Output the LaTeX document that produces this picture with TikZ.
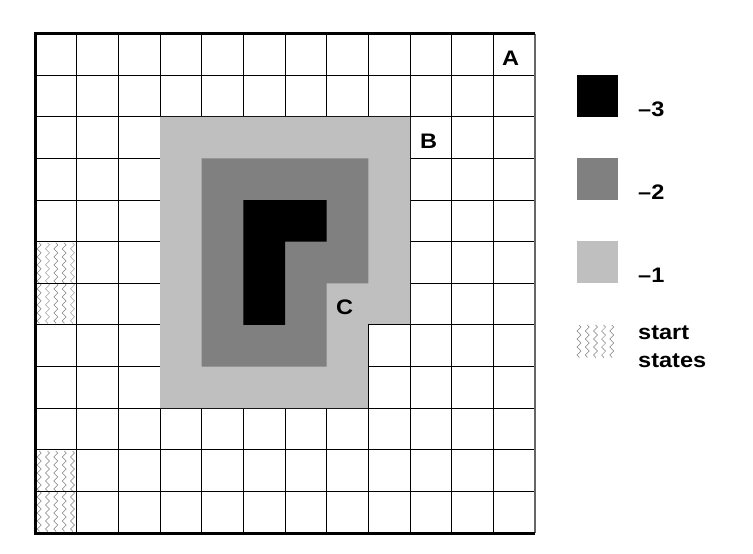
\documentclass[tikz,border=0pt]{standalone}
\usepackage{fontspec}
\setmainfont{Liberation Sans}
\usetikzlibrary{decorations.pathmorphing}
\newcommand{\wide}[1]{\scalebox{1.12}[1]{#1}}
\begin{document}
\begin{tikzpicture}[x=1pt,y=-1pt,
  lbl/.style={font=\fontsize{21}{24}\selectfont\bfseries, inner sep=0pt, anchor=base west},
  gridline/.style={line width=1pt, black},
  zz/.style={draw=black!50, line width=0.5pt, decorate,
     decoration={zigzag, segment length=8pt, amplitude=2pt}},
  lightc/.style={fill=black!25},
  darkc/.style={fill=black!50},
  blackc/.style={fill=black}]
\useasboundingbox (0,0) rectangle (753,554);
\begin{scope}[xshift=35pt, yshift=-33.5pt, x=41.667pt, y=-41.625pt]
  % start-state patterns
  \foreach \r in {5,10}{
    \foreach \k in {0,...,4}{
      \draw[zz] ({0.1+0.2*\k},\r+0.03) -- ({0.1+0.2*\k},\r+1.97);
    }
  }
  % grid
  \foreach \i in {1,...,11}{
    \draw[gridline] (\i,0) -- (\i,12);
    \draw[gridline] (0,\i) -- (12,\i);
  }
  % value regions
  \fill[lightc] (3,2) -- (9,2) -- (9,7) -- (8,7) -- (8,9) -- (3,9) -- cycle;
  \fill[darkc] (4,3) -- (8,3) -- (8,6) -- (7,6) -- (7,8) -- (4,8) -- cycle;
  \fill[blackc] (5,4) -- (7,4) -- (7,5) -- (6,5) -- (6,7) -- (5,7) -- cycle;
  \draw[gridline] (8,7) -- (9,7) (8,7) -- (8,9) (8,9) -- (9,9) (9,7) -- (9,9);
  % border
  \draw[line width=1.5pt, black!60] (12,0) -- (12,12);
  \draw[line width=3pt] (12,0) -- (0,0) -- (0,12) -- (12,12);
\end{scope}
% labels in the grid
\node[lbl] (A) at (502,65) {\wide{A}};
\node[lbl] (B) at (420,148) {\wide{B}};
\node[lbl] (C) at (336,314) {\wide{C}};
% legend
\fill[blackc] (577,75) rectangle (618,117);
\fill[darkc] (577,158) rectangle (618,200);
\fill[lightc] (577,241) rectangle (618,283);
\foreach \k in {0,...,4}{
  \draw[zz] ({579+8.2*\k},325) -- ({579+8.2*\k},358);
}
\node[lbl] (l3) at (638,116) {\wide{\textendash 3}};
\node[lbl] (l2) at (638,199) {\wide{\textendash 2}};
\node[lbl] (l1) at (638,282) {\wide{\textendash 1}};
\node[lbl] (ls1) at (638,339) {\wide{start}};
\node[lbl] (ls2) at (638,367) {\wide{states}};
\end{tikzpicture}
\end{document}
